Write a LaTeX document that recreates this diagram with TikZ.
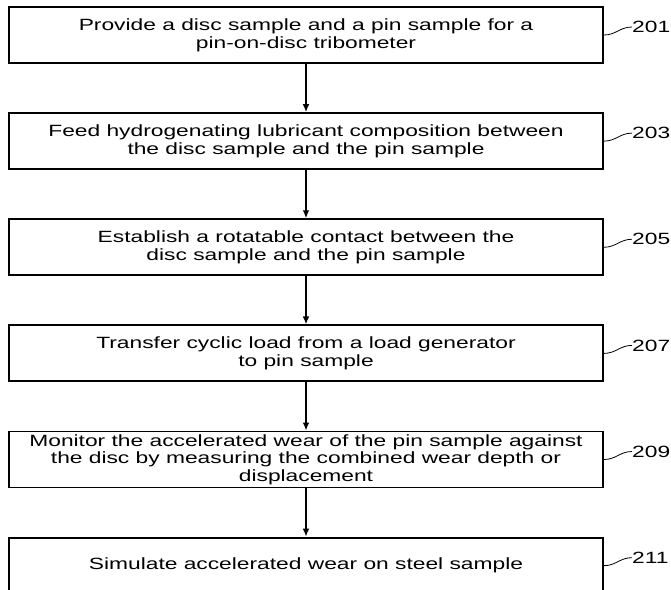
\documentclass[tikz,border=0pt]{standalone}
\usepackage{fontspec}
\newfontfamily\flowfont{Liberation Sans}[FakeStretch=1.4]
\usetikzlibrary{positioning,arrows.meta}

\tikzset{
  stepbox/.style={draw, line width=1.4pt, minimum width=445.5pt, minimum height=42pt,
    inner sep=0pt, align=center, font=\flowfont\fontsize{12.2}{13.3}\selectfont},
  tag/.style={font=\flowfont\fontsize{12.2}{13.3}\selectfont, inner sep=0pt},
  flow/.style={-{Latex[length=6pt,width=5pt]}, line width=1.4pt},
  leader/.style={line width=0.6pt}
}

\begin{document}
\begin{tikzpicture}[x=0.75pt, y=-0.75pt, node distance=36.2pt]
		\useasboundingbox (0,0) rectangle (671,589);
		\clip (0,0) rectangle (671,589);
		
		% steps
		\node[stepbox] (b201) at (306,35) {Provide a disc sample and a pin sample for a\\pin-on-disc tribometer};
		\node[stepbox, below=of b201] (b203) {Feed hydrogenating lubricant composition between\\the disc sample and the pin sample};
		\node[stepbox, below=of b203] (b205) {Establish a rotatable contact between the\\disc sample and the pin sample};
		\node[stepbox, below=of b205] (b207) {Transfer cyclic load from a load generator\\to pin sample};
		\node[stepbox, below=of b207] (b209) {Monitor the accelerated wear of the pin sample against\\the disc by measuring the combined wear depth or\\displacement};
		\node[stepbox, below=of b209] (b211) {Simulate accelerated wear on steel sample};
		
		\draw[flow] (b201) -- (b203);
		\draw[flow] (b203) -- (b205);
		\draw[flow] (b205) -- (b207);
		\draw[flow] (b207) -- (b209);
		\draw[flow] (b209) -- (b211);
		
		% reference numerals
		\foreach \n in {201,203,205,207,209,211} {
			\node[tag, right=21pt of b\n.east, yshift=6pt] (t\n) {\n};
			\draw[leader] (b\n.east) .. controls +(12,0) and +(-12,0) .. (t\n.west);
		}
	\end{tikzpicture}
\end{document}
